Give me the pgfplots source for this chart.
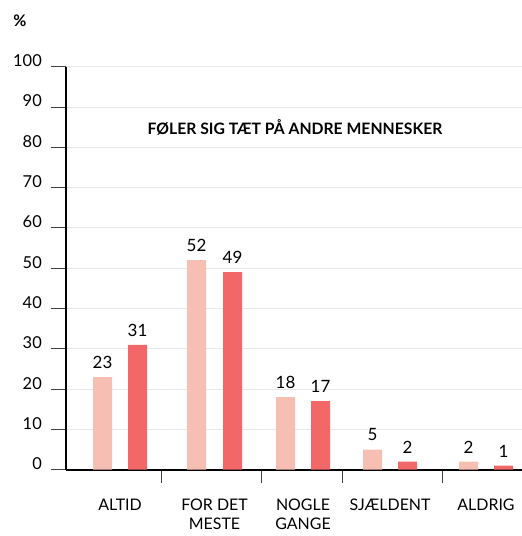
\documentclass[border=0pt]{standalone}
\usepackage{fontspec}
\setmainfont{Lato}
\usepackage{pgfplots}
\pgfplotsset{compat=1.18}
\definecolor{lightbar}{HTML}{F7BFB4}
\definecolor{darkbar}{HTML}{F26868}
\definecolor{gridc}{HTML}{E8E8E8}
\begin{document}
\begin{tikzpicture}
\useasboundingbox (0,0) rectangle (522bp,536bp);
\node[font=\fontsize{16}{18}\selectfont\bfseries] at (20bp,515.5bp) {\%};
\begin{axis}[
    at={(66bp,66.3bp)}, anchor=south west,
    scale only axis, width=456bp, height=403bp,
    xmin=66, xmax=522, ymin=0, ymax=100,
    axis x line=bottom, axis y line=left,
    axis line style={-, line width=2bp, black},
    ytick={0,10,...,100},
    ymajorgrids, grid style={gridc, line width=0.8bp},
    tick align=outside,
    major tick length=15bp,
    minor tick length=13bp,
    y tick style={black!75, line width=0.8bp},
    yticklabel style={font=\fontsize{16.5}{18}\selectfont, anchor=base east, inner sep=0pt, xshift=-9bp},
    /pgf/number format/assume math mode=true,
    xtick={120,214.5,303,390,486},
    xticklabels={ALTID, {FOR DET\\MESTE}, {NOGLE\\GANGE}, SJÆLDENT, ALDRIG},
    major x tick style={draw=none},
    minor xtick={161,261,342,442},
    minor x tick style={black!75, line width=0.8bp},
    xticklabel style={font=\fontsize{16}{18.5}\selectfont, align=center, anchor=north, yshift=-11bp},
    clip=false,
    nodes near coords,
    every node near coord/.append style={font=\fontsize{17}{18}\selectfont, black, anchor=south, yshift=5bp},
  ]
  \addplot[ybar, bar width=19, bar shift=0pt, fill=lightbar, draw=none]
    coordinates {(102.5,23) (196.5,52) (285.5,18) (372.5,5) (468.5,2)};
  \addplot[ybar, bar width=19, bar shift=0pt, fill=darkbar, draw=none]
    coordinates {(137.5,31) (232.5,49) (320.5,17) (407.5,2) (503.5,1)};
  \node[font=\fontsize{15.8}{18}\selectfont\bfseries] at (axis cs:295,85) {FØLER SIG TÆT PÅ ANDRE MENNESKER};
\end{axis}
\end{tikzpicture}
\end{document}
